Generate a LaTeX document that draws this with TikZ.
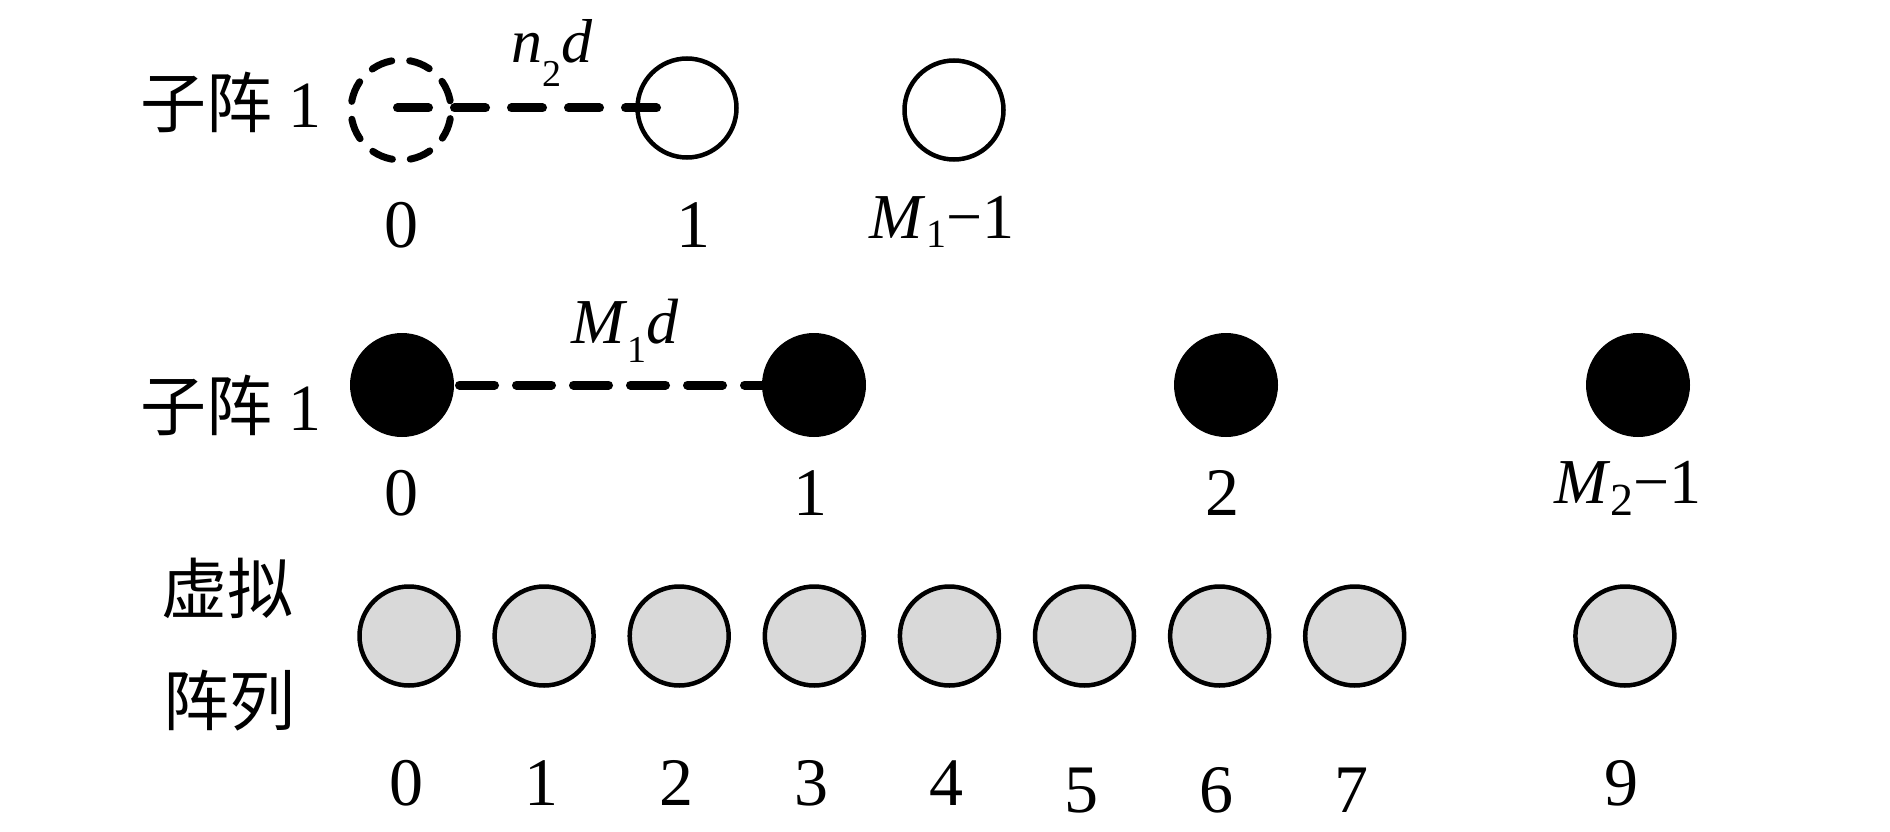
\documentclass[tikz,border=0pt]{standalone}
\usepackage{fontspec}
\setmainfont{Liberation Serif}
\newfontfamily\cjk{Noto Sans CJK SC}
\newcommand{\fsz}[1]{\fontsize{#1}{#1}\selectfont}
\begin{document}
\begin{tikzpicture}[x=1pt,y=-1pt,
  ring/.style={circle, draw=black, line width=4.5pt, minimum size=99pt, inner sep=0pt},
  dring/.style={circle, draw=black, line width=7pt, line cap=round, dash pattern=on 21.27pt off 18pt, dash phase=30pt, minimum size=100pt, inner sep=0pt},
  blackdot/.style={circle, fill=black, minimum size=104pt, inner sep=0pt},
  graydot/.style={circle, draw=black, fill=gray!30, line width=4.5pt, minimum size=99pt, inner sep=0pt},
  idx/.style={anchor=base, inner sep=0pt, font=\fsz{68}},
  lab/.style={anchor=base west, inner sep=0pt, font=\fsz{66}},
  formula/.style={anchor=base, inner sep=0pt, font=\fsz{64}},
  linkA/.style={line width=9pt, line cap=round, dash pattern=on 31pt off 26pt},
  linkB/.style={line width=9pt, line cap=round, dash pattern=on 35pt off 22pt},
]
\useasboundingbox (0,0) rectangle (1890,832);

% ---------- row 1 ----------
\node[lab] (lab1) at (140,128) {{\cjk 子阵} 1};
\coordinate (l1s) at (397.5,108);
\coordinate (l1e) at (657.5,108);
\node[dring] (d0) at (401,110) {};
\node[ring] (a1) at (687,108) {};
\node[ring] (a2) at (954,110) {};
\draw[linkA] (l1s) -- (l1e);
\node[formula, font=\fsz{62}] (n2d) at (552,63) {\textit{n}\raisebox{-24pt}{\fsz{38}2}\textit{d}};
\node[idx] (t10) at (401,247) {0};
\node[idx] (t11) at (693,247) {1};
\node[formula] (t12) at (942,238) {\textit{M}\raisebox{-9pt}{\fsz{40}1}−1};

% ---------- row 2 ----------
\node[lab] (lab2) at (140,430) {{\cjk 子阵} 1};
\coordinate (l2s) at (459.5,385);
\coordinate (l2e) at (780,385);
\draw[linkB] (l2s) -- (l2e);
\node[blackdot] (b0) at (402,385) {};
\node[blackdot] (b1) at (814,385) {};
\node[blackdot] (b2) at (1226,385) {};
\node[blackdot] (b3) at (1638,385) {};
\node[formula] (m1d) at (625,343) {\textit{M}\raisebox{-19pt}{\fsz{38}1}\textit{d}};
\node[idx] (t20) at (401,515) {0};
\node[idx] (t21) at (810,515) {1};
\node[idx] (t22) at (1222,515) {2};
\node[formula] (t23) at (1628,503) {\textit{M}\raisebox{-12pt}{\fsz{46}2}−1};

% ---------- row 3 ----------
\node[lab] (lab3a) at (161,613) {\cjk 虚拟};
\node[lab] (lab3b) at (163,725) {\cjk 阵列};
\foreach \i/\yb in {0/805,1/805,2/805,3/805,4/805,5/812,6/812,7/812,9/805}{
  \node[graydot] (g\i) at ({409+135.1*\i},636) {};
  \node[idx] (tg\i) at ({406+135.1*\i},\yb) {\i};
}
\end{tikzpicture}
\end{document}
